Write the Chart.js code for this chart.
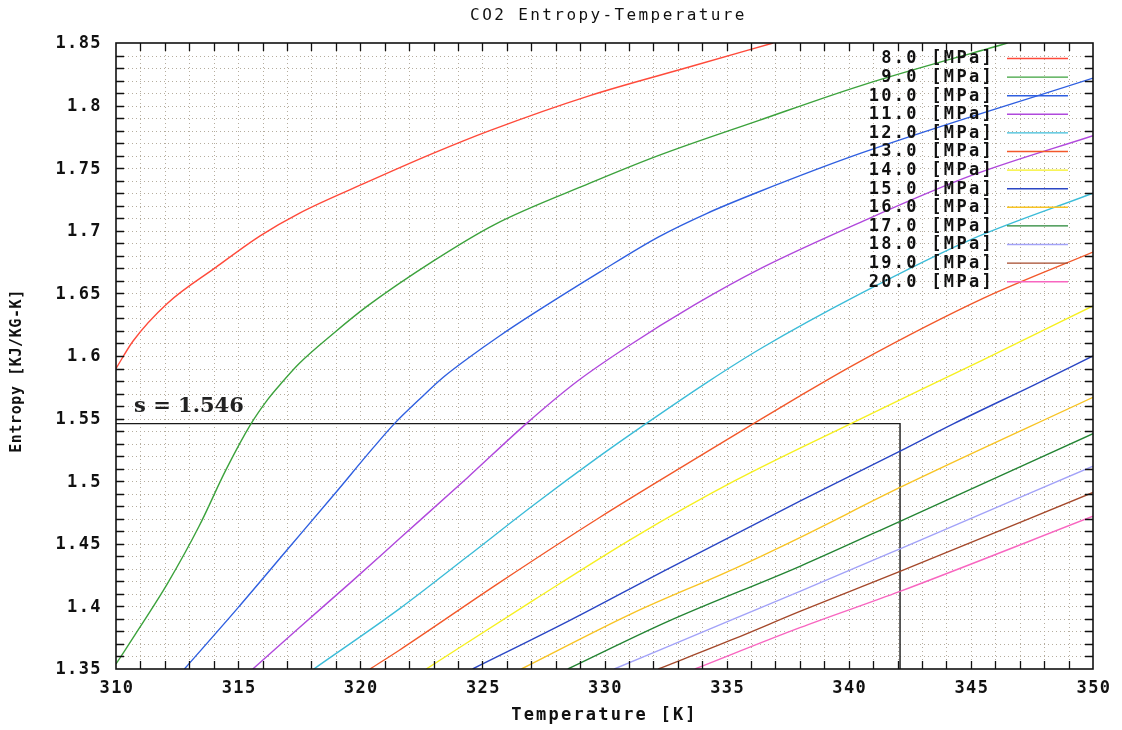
<!DOCTYPE html>
<html>
<head>
<meta charset="utf-8">
<title>CO2 Entropy-Temperature</title>
<script src="https://cdn.jsdelivr.net/npm/chart.js@4.4.1/dist/chart.umd.min.js"></script>
<style>
  html, body { margin: 0; padding: 0; background: #ffffff; }
  #wrap { width: 1122px; height: 730px; }
</style>
</head>
<body>
<div id="wrap"><canvas id="chart" width="1122" height="730"></canvas></div>
<script>
// Isobars of CO2 entropy [kJ/kg-K] against temperature [K]
const pressureLabels = ['8.0', '9.0', '10.0', '11.0', '12.0', '13.0', '14.0', '15.0', '16.0', '17.0', '18.0', '19.0', '20.0'];

const T_8  = [310.0, 310.7, 312.1, 314.1, 315.9, 317.5, 320.3, 323.0, 325.3, 329.4, 333.5, 336.9];
const S_8  = [1.590, 1.612, 1.642, 1.671, 1.696, 1.714, 1.739, 1.762, 1.780, 1.808, 1.831, 1.850];

const T_9  = [310.0, 311.0, 312.1, 313.4, 314.5, 315.5, 316.2, 316.8, 317.5, 318.9, 320.3, 323.0, 325.5, 329.4, 332.2, 336.3, 340.5, 346.5];
const S_9  = [1.354, 1.384, 1.418, 1.464, 1.509, 1.545, 1.565, 1.579, 1.594, 1.618, 1.640, 1.676, 1.705, 1.738, 1.760, 1.788, 1.816, 1.850];

const T_10 = [312.8, 315.0, 317.0, 319.0, 320.5, 321.4, 322.4, 323.4, 324.4, 325.7, 327.1, 329.8, 332.2, 334.2, 336.3, 340.5, 350.0];
const S_10 = [1.350, 1.399, 1.445, 1.491, 1.526, 1.546, 1.565, 1.583, 1.598, 1.616, 1.634, 1.667, 1.695, 1.714, 1.731, 1.762, 1.822];

const T_11 = [315.6, 317.5, 319.6, 321.6, 324.4, 326.8, 328.9, 330.9, 333.7, 336.4, 340.5, 345.0, 350.0];
const S_11 = [1.350, 1.383, 1.419, 1.454, 1.503, 1.546, 1.580, 1.607, 1.641, 1.670, 1.707, 1.744, 1.776];

const T_12 = [318.1, 321.6, 324.4, 327.1, 329.8, 331.7, 334.2, 336.4, 340.5, 345.0, 350.0];
const S_12 = [1.350, 1.398, 1.440, 1.481, 1.520, 1.546, 1.579, 1.606, 1.650, 1.693, 1.730];

const T_13 = [320.4, 321.6, 325.7, 329.8, 333.9, 336.1, 337.9, 340.3, 345.5, 350.0];
const S_13 = [1.350, 1.365, 1.419, 1.471, 1.520, 1.546, 1.567, 1.594, 1.646, 1.683];

const T_14 = [322.7, 327.1, 331.2, 335.3, 340.3, 345.5, 350.0];
const S_14 = [1.350, 1.405, 1.455, 1.500, 1.548, 1.597, 1.640];

const T_15 = [324.6, 328.5, 332.6, 338.0, 342.1, 344.3, 347.6, 350.0];
const S_15 = [1.350, 1.388, 1.430, 1.484, 1.524, 1.546, 1.577, 1.600];

const T_16 = [326.6, 331.2, 335.3, 338.0, 342.1, 350.0];
const S_16 = [1.350, 1.395, 1.430, 1.455, 1.495, 1.567];

const T_17 = [328.5, 332.6, 338.0, 342.1, 350.0];
const S_17 = [1.350, 1.388, 1.432, 1.468, 1.538];

const T_18 = [330.4, 335.3, 338.0, 342.1, 350.0];
const S_18 = [1.350, 1.390, 1.412, 1.446, 1.512];

const T_19 = [332.2, 335.3, 338.0, 342.1, 350.0];
const S_19 = [1.350, 1.374, 1.396, 1.428, 1.491];

const T_20 = [333.7, 338.0, 342.1, 350.0];
const S_20 = [1.350, 1.383, 1.412, 1.472];

// State marker: s = 1.546 reached at 342.1 K
const markEntropy = 1.546;
const markTemp = 342.1;
const markT = [310.0, markTemp, markTemp];
const markS = [markEntropy, markEntropy, 1.35];

// Axis ticks
const xTickLabels = [310, 315, 320, 325, 330, 335, 340, 345, 350];
const yTickLabels = ['1.35', '1.4', '1.45', '1.5', '1.55', '1.6', '1.65', '1.7', '1.75', '1.8', '1.85'];

const seriesT = [T_8, T_9, T_10, T_11, T_12, T_13, T_14, T_15, T_16, T_17, T_18, T_19, T_20];
const seriesS = [S_8, S_9, S_10, S_11, S_12, S_13, S_14, S_15, S_16, S_17, S_18, S_19, S_20];
const colors = ['#ff4a3a', '#3ca23c', '#2f5fe0', '#b048dc', '#3cbcd8', '#f2582a', '#f6f020',
                '#2a46c4', '#f8c424', '#238433', '#a2a2f8', '#a4482a', '#f866c0'];

const toPoints = (ts, ss) => ts.map((t, i) => ({ x: t, y: ss[i] }));

const datasets = pressureLabels.map((p, i) => ({
  label: p + ' [MPa]',
  data: toPoints(seriesT[i], seriesS[i]),
  borderColor: colors[i],
  borderWidth: 1.4,
  pointRadius: 0,
  fill: false,
  cubicInterpolationMode: 'monotone'
}));
datasets.push({
  label: 'marker',
  data: toPoints(markT, markS),
  borderColor: '#1a1a1a',
  borderWidth: 1.4,
  pointRadius: 0,
  fill: false,
  tension: 0
});

const MONO = '"DejaVu Sans Mono", monospace';

const frame = {
  id: 'frame',
  beforeDatasetsDraw(chart) {
    const { ctx, chartArea: a, scales: { x, y } } = chart;
    ctx.save();
    ctx.strokeStyle = '#b5ad9e';
    ctx.lineWidth = 1;
    ctx.setLineDash([1, 3]);
    for (let t = 311; t < 350; t++) {
      const px = Math.round(x.getPixelForValue(t)) + 0.5;
      ctx.beginPath(); ctx.moveTo(px, a.top); ctx.lineTo(px, a.bottom); ctx.stroke();
    }
    for (let i = 1; i < 50; i++) {
      const py = Math.round(y.getPixelForValue(1.35 + i * 0.01)) + 0.5;
      ctx.beginPath(); ctx.moveTo(a.left, py); ctx.lineTo(a.right, py); ctx.stroke();
    }
    ctx.restore();
  },
  afterDatasetsDraw(chart) {
    const { ctx, chartArea: a, scales: { x, y } } = chart;
    ctx.save();
    // inward ticks on all four sides
    ctx.strokeStyle = '#111';
    ctx.lineWidth = 1.3;
    const tl = 8;
    for (let t = 311; t < 350; t++) {
      const px = Math.round(x.getPixelForValue(t)) + 0.5;
      ctx.beginPath();
      ctx.moveTo(px, a.bottom); ctx.lineTo(px, a.bottom - tl);
      ctx.moveTo(px, a.top); ctx.lineTo(px, a.top + tl);
      ctx.stroke();
    }
    for (let i = 1; i < 50; i++) {
      const py = Math.round(y.getPixelForValue(1.35 + i * 0.01)) + 0.5;
      ctx.beginPath();
      ctx.moveTo(a.left, py); ctx.lineTo(a.left + tl, py);
      ctx.moveTo(a.right, py); ctx.lineTo(a.right - tl, py);
      ctx.stroke();
    }
    // frame
    ctx.lineWidth = 1.6;
    ctx.strokeRect(a.left, a.top, a.right - a.left, a.bottom - a.top);

    // tick labels
    ctx.fillStyle = '#111';
    ctx.font = 'bold 17px ' + MONO;
    ctx.letterSpacing = '1.4px';
    ctx.textAlign = 'center';
    ctx.textBaseline = 'middle';
    xTickLabels.forEach(v => {
      ctx.fillText(String(v), x.getPixelForValue(v) + 1, a.bottom + 20);
    });
    ctx.textAlign = 'right';
    yTickLabels.forEach(v => {
      ctx.fillText(v, a.left - 14, y.getPixelForValue(parseFloat(v)) + 1);
    });

    // chart title and axis titles
    ctx.font = '16px ' + MONO;
    ctx.letterSpacing = '2.4px';
    ctx.textAlign = 'center';
    ctx.fillText('CO2 Entropy-Temperature', (a.left + a.right) / 2 + 4, 16);
    ctx.font = 'bold 17px ' + MONO;
    ctx.letterSpacing = '2.2px';
    ctx.fillText('Temperature [K]', (a.left + a.right) / 2, 716);
    ctx.save();
    ctx.translate(17, 371);
    ctx.rotate(-Math.PI / 2);
    ctx.font = 'bold 15px ' + MONO;
    ctx.letterSpacing = '0.6px';
    ctx.fillText('Entropy [KJ/KG-K]', 0, 0);
    ctx.restore();

    // legend: label text followed by a line sample
    ctx.font = 'bold 17px ' + MONO;
    ctx.letterSpacing = '2.3px';
    ctx.textAlign = 'right';
    const rowTop = 58, rowGap = 18.6;
    pressureLabels.forEach((p, i) => {
      const ly = rowTop + i * rowGap;
      ctx.fillStyle = '#111';
      ctx.fillText(p + ' [MPa]', 994, ly + 1);
      ctx.strokeStyle = colors[i];
      ctx.lineWidth = 1.4;
      ctx.beginPath(); ctx.moveTo(1007, ly + 0.5); ctx.lineTo(1068, ly + 0.5); ctx.stroke();
    });

    // marker label
    ctx.letterSpacing = '0px';
    ctx.textAlign = 'left';
    ctx.textBaseline = 'alphabetic';
    ctx.fillStyle = '#222';
    ctx.font = 'bold 21px "DejaVu Serif", serif';
    ctx.fillText('s = ' + markEntropy.toFixed(3), 134, y.getPixelForValue(markEntropy) - 12);
    ctx.restore();
  }
};

new Chart(document.getElementById('chart'), {
  type: 'line',
  data: { datasets },
  options: {
    responsive: false,
    animation: false,
    devicePixelRatio: 1,
    layout: { padding: { left: 116, top: 43, right: 29, bottom: 61 } },
    plugins: { legend: { display: false }, title: { display: false }, tooltip: { enabled: false } },
    scales: {
      x: { type: 'linear', min: 310, max: 350, display: false },
      y: { type: 'linear', min: 1.35, max: 1.85, display: false }
    }
  },
  plugins: [frame]
});
</script>
</body>
</html>
